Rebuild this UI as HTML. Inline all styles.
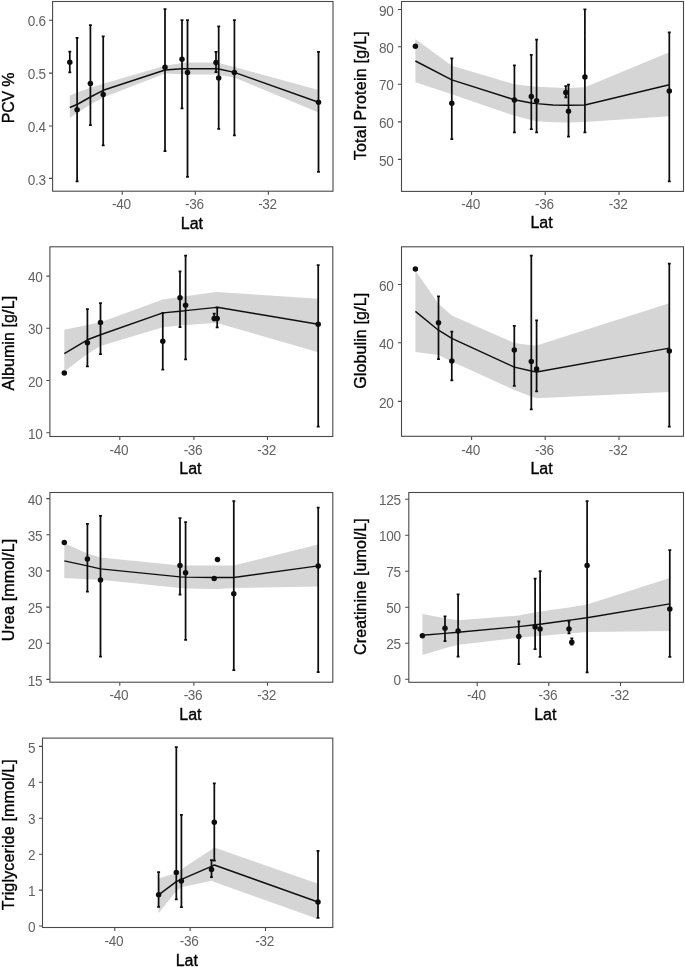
<!DOCTYPE html>
<html lang="en"><head><meta charset="utf-8"><title>Blood parameters vs latitude</title>
<style>html,body{margin:0;padding:0;background:#fff}svg{display:block}text{font-family:"Liberation Sans",Arial,sans-serif}.t{font-size:13.6px;fill:#626262;letter-spacing:-0.3px}.a{font-size:16px;fill:#000;letter-spacing:0.3px;stroke:#000;stroke-width:0.35px}.e{stroke:#111;stroke-width:1.75;fill:none}.s{stroke:#111;stroke-width:1.45;fill:none;stroke-linejoin:round}.p{fill:#111}.r{fill:#d5d5d5}.b{fill:none;stroke:#4a4a4a;stroke-width:1.1}.k{stroke:#4a4a4a;stroke-width:1.1}</style></head><body>
<svg width="685" height="967" viewBox="0 0 685 967">
<rect width="685" height="967" fill="#fff"/>
<defs><filter id="soft" x="0" y="0" width="685" height="967" filterUnits="userSpaceOnUse"><feGaussianBlur stdDeviation="0.5"/></filter></defs>
<g filter="url(#soft)">
<g>
<polygon class="r" points="69.8,95.6 77.1,92.5 90.4,87.7 103.2,83.8 165,65.8 182,63 187.5,62.5 216,62.4 218.7,63 234.4,67 318.5,90 318.5,112.5 234.4,77.6 218.7,75 216,74.4 187.5,74.4 182,74.3 165,73.5 103.2,97.4 90.4,104.4 77.1,113.1 69.8,117.9"/>
<path class="e" d="M69.8,51.6V72.4M68.35,51.6H71.25M68.35,72.4H71.25M77.1,37.8V181.4M75.65,37.8H78.55M75.65,181.4H78.55M90.4,25.2V125M88.95,25.2H91.85M88.95,125H91.85M103.2,36.3V145.4M101.75,36.3H104.65M101.75,145.4H104.65M165,9.1V151.2M163.55,9.1H166.45M163.55,151.2H166.45M182,20.1V108.4M180.55,20.1H183.45M180.55,108.4H183.45M187.5,20.1V176.9M186.05,20.1H188.95M186.05,176.9H188.95M216,51.8V72M214.55,51.8H217.45M214.55,72H217.45M218.7,26.3V128.9M217.25,26.3H220.15M217.25,128.9H220.15M234.4,20.1V135.4M232.95,20.1H235.85M232.95,135.4H235.85M318.5,51.8V171.9M317.05,51.8H319.95M317.05,171.9H319.95"/>
<polyline class="s" points="69.8,107.5 77.1,104.5 90.4,97 103.2,90.3 165,70 182,68.8 187.5,68.7 216,68.7 218.7,69 234.4,72.4 318.5,102.3"/>
<circle class="p" cx="69.8" cy="62.3" r="2.75"/>
<circle class="p" cx="77.1" cy="109.8" r="2.75"/>
<circle class="p" cx="90.4" cy="83.6" r="2.75"/>
<circle class="p" cx="103.2" cy="94.4" r="2.75"/>
<circle class="p" cx="165" cy="67.3" r="2.75"/>
<circle class="p" cx="182" cy="59.2" r="2.75"/>
<circle class="p" cx="187.5" cy="72.4" r="2.75"/>
<circle class="p" cx="216" cy="62.4" r="2.75"/>
<circle class="p" cx="218.7" cy="78.1" r="2.75"/>
<circle class="p" cx="234.4" cy="72.4" r="2.75"/>
<circle class="p" cx="318.5" cy="102.3" r="2.75"/>
<rect class="b" x="52.6" y="1.5" width="280.4" height="189.7"/>
<path class="k" d="M49,20.2H52.6M49,73.1H52.6M49,126H52.6M49,178.4H52.6M122.3,191.2V194.8M195.3,191.2V194.8M268.4,191.2V194.8"/>
<text class="t" text-anchor="end" transform="translate(45.7,26.3) scale(1,1.12)">0.6</text>
<text class="t" text-anchor="end" transform="translate(45.7,79.2) scale(1,1.12)">0.5</text>
<text class="t" text-anchor="end" transform="translate(45.7,132.1) scale(1,1.12)">0.4</text>
<text class="t" text-anchor="end" transform="translate(45.7,184.5) scale(1,1.12)">0.3</text>
<text class="t" text-anchor="middle" transform="translate(121.4,209.1) scale(1,1.12)">-40</text>
<text class="t" text-anchor="middle" transform="translate(194.4,209.1) scale(1,1.12)">-36</text>
<text class="t" text-anchor="middle" transform="translate(267.5,209.1) scale(1,1.12)">-32</text>
<text class="a" style="letter-spacing:0" text-anchor="middle" x="191.9" y="228.8">Lat</text>
<text class="a" style="letter-spacing:-0.2px" text-anchor="middle" transform="translate(13.9,98) rotate(-90)">PCV %</text>
</g>
<g>
<polygon class="r" points="415.4,39 451.8,65.8 514.4,84.2 531.3,86.2 536.6,86.7 553,87.6 565.8,88 568.5,88 584.9,87.2 669.3,52.3 669.3,116.3 584.9,122.1 568.5,122.6 565.8,122.6 553,122.2 536.6,121.2 531.3,120 514.4,115.8 451.8,94.2 415.4,82.2"/>
<path class="e" d="M451.8,58.4V139.1M450.35,58.4H453.25M450.35,139.1H453.25M514.4,65.4V132.3M512.95,65.4H515.85M512.95,132.3H515.85M531.3,54.9V129M529.85,54.9H532.75M529.85,129H532.75M536.6,39.6V132.3M535.15,39.6H538.05M535.15,132.3H538.05M565.8,86V97.4M564.35,86H567.25M564.35,97.4H567.25M568.5,84.6V136.6M567.05,84.6H569.95M567.05,136.6H569.95M584.9,9.4V132.3M583.45,9.4H586.35M583.45,132.3H586.35M669.3,32.4V181.3M667.85,32.4H670.75M667.85,181.3H670.75"/>
<polyline class="s" points="415.4,61 451.8,79.9 514.4,99.8 531.3,103 536.6,103.6 553,105 565.8,105.2 568.5,105.2 584.9,105 669.3,84.7"/>
<circle class="p" cx="415.4" cy="46.2" r="2.75"/>
<circle class="p" cx="451.8" cy="103.3" r="2.75"/>
<circle class="p" cx="514.4" cy="100" r="2.75"/>
<circle class="p" cx="531.3" cy="96.5" r="2.75"/>
<circle class="p" cx="536.6" cy="100.8" r="2.75"/>
<circle class="p" cx="565.8" cy="92.5" r="2.75"/>
<circle class="p" cx="568.5" cy="111.3" r="2.75"/>
<circle class="p" cx="584.9" cy="76.9" r="2.75"/>
<circle class="p" cx="669.3" cy="91" r="2.75"/>
<rect class="b" x="401.5" y="1.5" width="282" height="189.9"/>
<path class="k" d="M397.9,9.5H401.5M397.9,46.8H401.5M397.9,84.3H401.5M397.9,121.9H401.5M397.9,159.4H401.5M471.6,191.4V195M545.2,191.4V195M619,191.4V195"/>
<text class="t" text-anchor="end" transform="translate(393.4,15.6) scale(1,1.12)">90</text>
<text class="t" text-anchor="end" transform="translate(393.4,52.9) scale(1,1.12)">80</text>
<text class="t" text-anchor="end" transform="translate(393.4,90.4) scale(1,1.12)">70</text>
<text class="t" text-anchor="end" transform="translate(393.4,128) scale(1,1.12)">60</text>
<text class="t" text-anchor="end" transform="translate(393.4,165.5) scale(1,1.12)">50</text>
<text class="t" text-anchor="middle" transform="translate(470.7,209.1) scale(1,1.12)">-40</text>
<text class="t" text-anchor="middle" transform="translate(544.3,209.1) scale(1,1.12)">-36</text>
<text class="t" text-anchor="middle" transform="translate(618.1,209.1) scale(1,1.12)">-32</text>
<text class="a" style="letter-spacing:0" text-anchor="middle" x="541.6" y="228.1">Lat</text>
<text class="a" style="letter-spacing:0.25px" text-anchor="middle" transform="translate(366.4,95.65) rotate(-90)">Total Protein [g/L]</text>
</g>
<g>
<polygon class="r" points="64.3,329.7 87.4,325 100.5,322.2 162.8,299.6 180,297 185.6,296.2 214.2,292.2 217.2,292 318.2,298.8 318.2,352.3 217.2,323 214.2,323 185.6,325 180,325.4 162.8,327.2 100.5,346 87.4,354 64.3,371.6"/>
<path class="e" d="M87.4,309V366.4M85.95,309H88.85M85.95,366.4H88.85M100.5,303.2V354.2M99.05,303.2H101.95M99.05,354.2H101.95M162.8,313V369.7M161.35,313H164.25M161.35,369.7H164.25M180,271.3V327.1M178.55,271.3H181.45M178.55,327.1H181.45M185.6,255.7V359.4M184.15,255.7H187.05M184.15,359.4H187.05M214.2,313.5V320.4M212.75,313.5H215.65M212.75,320.4H215.65M217.2,307.7V327.4M215.75,307.7H218.65M215.75,327.4H218.65M318.2,265V426.7M316.75,265H319.65M316.75,426.7H319.65"/>
<polyline class="s" points="64.3,353.6 87.4,339.8 100.5,334.7 162.8,312.9 180,311.2 185.6,310.6 214.2,307.6 217.2,307.3 318.2,324.2"/>
<circle class="p" cx="64.3" cy="373.1" r="2.75"/>
<circle class="p" cx="87.4" cy="342.8" r="2.75"/>
<circle class="p" cx="100.5" cy="322.4" r="2.75"/>
<circle class="p" cx="162.8" cy="341.3" r="2.75"/>
<circle class="p" cx="180" cy="297.8" r="2.75"/>
<circle class="p" cx="185.6" cy="305.3" r="2.75"/>
<circle class="p" cx="214.2" cy="318.4" r="2.75"/>
<circle class="p" cx="217.2" cy="318.4" r="2.75"/>
<circle class="p" cx="318.2" cy="324.2" r="2.75"/>
<rect class="b" x="49.9" y="246.8" width="282.9" height="189.7"/>
<path class="k" d="M46.3,276.1H49.9M46.3,328.3H49.9M46.3,380.5H49.9M46.3,432.8H49.9M119.8,436.5V440.1M193.9,436.5V440.1M267.5,436.5V440.1"/>
<text class="t" text-anchor="end" transform="translate(42.4,282.2) scale(1,1.12)">40</text>
<text class="t" text-anchor="end" transform="translate(42.4,334.4) scale(1,1.12)">30</text>
<text class="t" text-anchor="end" transform="translate(42.4,386.6) scale(1,1.12)">20</text>
<text class="t" text-anchor="end" transform="translate(42.4,438.9) scale(1,1.12)">10</text>
<text class="t" text-anchor="middle" transform="translate(118.9,454.6) scale(1,1.12)">-40</text>
<text class="t" text-anchor="middle" transform="translate(193,454.6) scale(1,1.12)">-36</text>
<text class="t" text-anchor="middle" transform="translate(266.6,454.6) scale(1,1.12)">-32</text>
<text class="a" style="letter-spacing:0" text-anchor="middle" x="190.45" y="474.4">Lat</text>
<text class="a" style="letter-spacing:0.1px" text-anchor="middle" transform="translate(13.9,343.15) rotate(-90)">Albumin [g/L]</text>
</g>
<g>
<polygon class="r" points="415.4,270.7 438.5,303.8 451.8,315.4 514.3,343 531.3,345.2 536.6,345.6 669.3,303.3 669.3,392 536.6,398.3 531.3,396.5 514.3,390 451.8,361.4 438.5,355 415.4,352"/>
<path class="e" d="M438.5,296.4V359M437.05,296.4H439.95M437.05,359H439.95M451.8,331.6V380.4M450.35,331.6H453.25M450.35,380.4H453.25M514.3,325.8V385.9M512.85,325.8H515.75M512.85,385.9H515.75M531.3,255.7V409.3M529.85,255.7H532.75M529.85,409.3H532.75M536.6,320.3V391.4M535.15,320.3H538.05M535.15,391.4H538.05M669.3,263.7V426.6M667.85,263.7H670.75M667.85,426.6H670.75"/>
<polyline class="s" points="415.4,311.4 438.5,330.2 451.8,338.4 514.3,367.1 531.3,371 536.6,372 669.3,348.1"/>
<circle class="p" cx="415.4" cy="268.9" r="2.75"/>
<circle class="p" cx="438.5" cy="322.7" r="2.75"/>
<circle class="p" cx="451.8" cy="360.9" r="2.75"/>
<circle class="p" cx="514.3" cy="350" r="2.75"/>
<circle class="p" cx="531.3" cy="361.4" r="2.75"/>
<circle class="p" cx="536.6" cy="369" r="2.75"/>
<circle class="p" cx="669.3" cy="351" r="2.75"/>
<rect class="b" x="401.5" y="246.8" width="282" height="189.5"/>
<path class="k" d="M397.9,284.5H401.5M397.9,342.7H401.5M397.9,401.4H401.5M471.6,436.3V439.9M545.2,436.3V439.9M619,436.3V439.9"/>
<text class="t" text-anchor="end" transform="translate(393.6,290.6) scale(1,1.12)">60</text>
<text class="t" text-anchor="end" transform="translate(393.6,348.8) scale(1,1.12)">40</text>
<text class="t" text-anchor="end" transform="translate(393.6,407.5) scale(1,1.12)">20</text>
<text class="t" text-anchor="middle" transform="translate(470.7,454.5) scale(1,1.12)">-40</text>
<text class="t" text-anchor="middle" transform="translate(544.3,454.5) scale(1,1.12)">-36</text>
<text class="t" text-anchor="middle" transform="translate(618.1,454.5) scale(1,1.12)">-32</text>
<text class="a" style="letter-spacing:0" text-anchor="middle" x="541.6" y="473.8">Lat</text>
<text class="a" style="letter-spacing:0.13px" text-anchor="middle" transform="translate(366.4,340.8) rotate(-90)">Globulin [g/L]</text>
</g>
<g>
<polygon class="r" points="64.3,543.3 87.4,553.4 100.5,557.6 180,565.4 185.6,565.4 214.2,565.4 217.5,565.4 233.8,565.4 318.2,544.6 318.2,586.5 233.8,588 217.5,588.9 214.2,588.9 185.6,588.4 180,588 100.5,579.7 87.4,579.2 64.3,578"/>
<path class="e" d="M87.4,523.8V591.7M85.95,523.8H88.85M85.95,591.7H88.85M100.5,515.8V656.7M99.05,515.8H101.95M99.05,656.7H101.95M180,518V594.7M178.55,518H181.45M178.55,594.7H181.45M185.6,522V639.8M184.15,522H187.05M184.15,639.8H187.05M233.8,501.2V670M232.35,501.2H235.25M232.35,670H235.25M318.2,507.5V672M316.75,507.5H319.65M316.75,672H319.65"/>
<polyline class="s" points="64.3,560.9 87.4,565.9 100.5,568.9 180,576.9 185.6,577.1 214.2,577.4 217.5,577.4 233.8,577.5 318.2,565.9"/>
<circle class="p" cx="64.3" cy="542.5" r="2.75"/>
<circle class="p" cx="87.4" cy="558.9" r="2.75"/>
<circle class="p" cx="100.5" cy="580" r="2.75"/>
<circle class="p" cx="180" cy="565.4" r="2.75"/>
<circle class="p" cx="185.6" cy="572.7" r="2.75"/>
<circle class="p" cx="214.2" cy="578.5" r="2.75"/>
<circle class="p" cx="217.5" cy="559.6" r="2.75"/>
<circle class="p" cx="233.8" cy="593.8" r="2.75"/>
<circle class="p" cx="318.2" cy="565.9" r="2.75"/>
<rect class="b" x="49.9" y="492.5" width="282.9" height="189.7"/>
<path class="k" d="M46.3,498.6H49.9M46.3,534.7H49.9M46.3,570.9H49.9M46.3,607.1H49.9M46.3,643.3H49.9M46.3,679.4H49.9M119.8,682.2V685.8M193.9,682.2V685.8M267.5,682.2V685.8"/>
<text class="t" text-anchor="end" transform="translate(42.3,504.7) scale(1,1.12)">40</text>
<text class="t" text-anchor="end" transform="translate(42.3,540.8) scale(1,1.12)">35</text>
<text class="t" text-anchor="end" transform="translate(42.3,577) scale(1,1.12)">30</text>
<text class="t" text-anchor="end" transform="translate(42.3,613.2) scale(1,1.12)">25</text>
<text class="t" text-anchor="end" transform="translate(42.3,649.4) scale(1,1.12)">20</text>
<text class="t" text-anchor="end" transform="translate(42.3,685.5) scale(1,1.12)">15</text>
<text class="t" text-anchor="middle" transform="translate(118.9,700.2) scale(1,1.12)">-40</text>
<text class="t" text-anchor="middle" transform="translate(193,700.2) scale(1,1.12)">-36</text>
<text class="t" text-anchor="middle" transform="translate(266.6,700.2) scale(1,1.12)">-32</text>
<text class="a" style="letter-spacing:0" text-anchor="middle" x="190.45" y="720.3">Lat</text>
<text class="a" style="letter-spacing:0.16px" text-anchor="middle" transform="translate(13.9,589.95) rotate(-90)">Urea [mmol/L]</text>
</g>
<g>
<polygon class="r" points="422.4,613.9 445,618.2 458.1,620.2 518.8,615.5 535.1,612.2 540.1,611.4 569,607.6 571.8,607.1 587.1,604.6 669.8,578 669.8,631 587.1,632 571.8,633.2 569,633.4 540.1,635.9 535.1,636.3 518.8,637.8 458.1,644.8 445,648.3 422.4,654.9"/>
<path class="e" d="M445,616.3V641M443.55,616.3H446.45M443.55,641H446.45M458.1,594.4V656.5M456.65,594.4H459.55M456.65,656.5H459.55M518.8,621.3V664.1M517.35,621.3H520.25M517.35,664.1H520.25M535.1,578.6V649.2M533.65,578.6H536.55M533.65,649.2H536.55M540.1,571V656.8M538.65,571H541.55M538.65,656.8H541.55M569,621.3V633.4M567.55,621.3H570.45M567.55,633.4H570.45M571.8,638.4V644.7M570.35,638.4H573.25M570.35,644.7H573.25M587.1,501.2V672.4M585.65,501.2H588.55M585.65,672.4H588.55M669.8,550.2V656.8M668.35,550.2H671.25M668.35,656.8H671.25"/>
<polyline class="s" points="422.4,635.3 445,633.4 458.1,632.3 518.8,626.6 535.1,624.8 540.1,624.2 569,620.3 571.8,619.9 587.1,617.7 669.8,603.9"/>
<circle class="p" cx="422.4" cy="635.8" r="2.75"/>
<circle class="p" cx="445" cy="628.2" r="2.75"/>
<circle class="p" cx="458.1" cy="631" r="2.75"/>
<circle class="p" cx="518.8" cy="636.5" r="2.75"/>
<circle class="p" cx="535.1" cy="627" r="2.75"/>
<circle class="p" cx="540.1" cy="629" r="2.75"/>
<circle class="p" cx="569" cy="629" r="2.75"/>
<circle class="p" cx="571.8" cy="642.3" r="2.75"/>
<circle class="p" cx="587.1" cy="565.4" r="2.75"/>
<circle class="p" cx="669.8" cy="608.9" r="2.75"/>
<rect class="b" x="408.8" y="492.5" width="274.7" height="189.8"/>
<path class="k" d="M405.2,499.3H408.8M405.2,535.3H408.8M405.2,571.3H408.8M405.2,607.2H408.8M405.2,643.2H408.8M405.2,679.2H408.8M477.2,682.3V685.9M548.8,682.3V685.9M620.5,682.3V685.9"/>
<text class="t" text-anchor="end" transform="translate(400.7,505.4) scale(1,1.12)">125</text>
<text class="t" text-anchor="end" transform="translate(400.7,541.4) scale(1,1.12)">100</text>
<text class="t" text-anchor="end" transform="translate(400.7,577.4) scale(1,1.12)">75</text>
<text class="t" text-anchor="end" transform="translate(400.7,613.3) scale(1,1.12)">50</text>
<text class="t" text-anchor="end" transform="translate(400.7,649.3) scale(1,1.12)">25</text>
<text class="t" text-anchor="end" transform="translate(400.7,685.3) scale(1,1.12)">0</text>
<text class="t" text-anchor="middle" transform="translate(476.3,700.1) scale(1,1.12)">-40</text>
<text class="t" text-anchor="middle" transform="translate(547.9,700.1) scale(1,1.12)">-36</text>
<text class="t" text-anchor="middle" transform="translate(619.6,700.1) scale(1,1.12)">-32</text>
<text class="a" style="letter-spacing:0" text-anchor="middle" x="545.25" y="719.9">Lat</text>
<text class="a" style="letter-spacing:0.13px" text-anchor="middle" transform="translate(366.4,586.5) rotate(-90)">Creatinine [umol/L]</text>
</g>
<g>
<polygon class="r" points="158.6,878.5 176.3,873 181.4,869.3 211.5,849.5 214.3,847.6 318,883.7 318,918.9 214.3,882 211.5,880.8 181.4,887.3 176.3,891 158.6,913.3"/>
<path class="e" d="M158.6,872.1V906.8M157.15,872.1H160.05M157.15,906.8H160.05M176.3,747V899.4M174.85,747H177.75M174.85,899.4H177.75M181.4,814.9V907M179.95,814.9H182.85M179.95,907H182.85M211.5,860V877.2M210.05,860H212.95M210.05,877.2H212.95M214.3,783.4V860.5M212.85,783.4H215.75M212.85,860.5H215.75M318,850.9V917.8M316.55,850.9H319.45M316.55,917.8H319.45"/>
<polyline class="s" points="158.6,894.9 176.3,881.6 181.4,879.3 211.5,866.4 214.3,865 318,902"/>
<circle class="p" cx="158.6" cy="894.8" r="2.75"/>
<circle class="p" cx="176.3" cy="872.6" r="2.75"/>
<circle class="p" cx="181.4" cy="880.9" r="2.75"/>
<circle class="p" cx="211.5" cy="869.5" r="2.75"/>
<circle class="p" cx="214.3" cy="822.3" r="2.75"/>
<circle class="p" cx="318" cy="902" r="2.75"/>
<rect class="b" x="42.5" y="738.1" width="290.3" height="189.4"/>
<path class="k" d="M38.9,746.4H42.5M38.9,782.3H42.5M38.9,818.3H42.5M38.9,854.2H42.5M38.9,890.1H42.5M38.9,926H42.5M114.8,927.5V931.1M190.1,927.5V931.1M265.5,927.5V931.1"/>
<text class="t" text-anchor="end" transform="translate(35.2,752.5) scale(1,1.12)">5</text>
<text class="t" text-anchor="end" transform="translate(35.2,788.4) scale(1,1.12)">4</text>
<text class="t" text-anchor="end" transform="translate(35.2,824.4) scale(1,1.12)">3</text>
<text class="t" text-anchor="end" transform="translate(35.2,860.3) scale(1,1.12)">2</text>
<text class="t" text-anchor="end" transform="translate(35.2,896.2) scale(1,1.12)">1</text>
<text class="t" text-anchor="end" transform="translate(35.2,932.1) scale(1,1.12)">0</text>
<text class="t" text-anchor="middle" transform="translate(113.9,946.1) scale(1,1.12)">-40</text>
<text class="t" text-anchor="middle" transform="translate(189.2,946.1) scale(1,1.12)">-36</text>
<text class="t" text-anchor="middle" transform="translate(264.6,946.1) scale(1,1.12)">-32</text>
<text class="a" style="letter-spacing:0" text-anchor="middle" x="186.75" y="965.9">Lat</text>
<text class="a" style="letter-spacing:0.155px" text-anchor="middle" transform="translate(13.9,834.6) rotate(-90)">Triglyceride [mmol/L]</text>
</g>
</g>
</svg></body></html>
